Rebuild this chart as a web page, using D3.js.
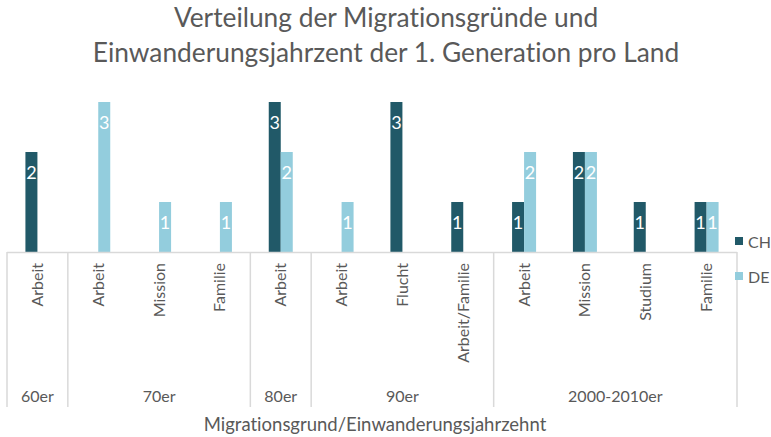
<!DOCTYPE html>
<html>
<head>
<meta charset="utf-8">
<script src="https://cdn.jsdelivr.net/npm/d3@7"></script>
<style>
  body { margin: 0; background: #fff; }
  svg { display: block; font-family: Lato, "Open Sans", sans-serif; font-variant-ligatures: none; }
</style>
</head>
<body>
<svg></svg>
<script>
var width = 771;
var height = 437;

// data
var categories = ["Arbeit", "Arbeit", "Mission", "Familie", "Arbeit", "Arbeit", "Flucht",
                  "Arbeit/Familie", "Arbeit", "Mission", "Studium", "Familie"];
var groupLabels = ["60er", "70er", "80er", "90er", "2000-2010er"];
var groupSizes = [1, 3, 1, 3, 4];
var seriesNames = ["CH", "DE"];
var chValues = [2, 0, 0, 0, 3, 0, 3, 1, 1, 2, 1, 1];
var deValues = [0, 3, 1, 1, 2, 1, 0, 0, 2, 2, 0, 1];
var titleLines = ["Verteilung der Migrationsgründe und",
                  "Einwanderungsjahrzent der 1. Generation pro Land"];
var axisTitle = "Migrationsgrund/Einwanderungsjahrzehnt";

var colors = { "CH": "#215968", "DE": "#93cddd" };
var textColor = "#595959";
var lineColor = "#d9d9d9";

var plot = { left: 7, right: 737, base: 252, top: 102, bottom: 407 };

var svg = d3.select("svg")
            .attr("width", width)
            .attr("height", height);

// title
svg.append("g")
   .selectAll("text")
   .data(titleLines)
   .enter()
   .append("text")
   .attr("x", 386)
   .attr("y", function(d, i) { return 27 + i * 35; })
   .attr("text-anchor", "middle")
   .attr("fill", textColor)
   .style("font-size", "26.3px")
   .text(function(d) { return d; });

var idx = d3.range(categories.length);

var scaleX = d3.scaleBand()
               .domain(idx)
               .range([plot.left, plot.right])
               .padding(0);

var bw = scaleX.bandwidth();

var scaleSeries = d3.scaleBand()
                    .domain(seriesNames)
                    .range([bw / 2 - 12, bw / 2 + 12])
                    .padding(0);

var scaleY = d3.scaleLinear()
               .domain([0, 3])
               .range([plot.base, plot.top]);

var rows = [];
idx.forEach(function(i) {
  rows.push({ i: i, s: "CH", v: chValues[i] });
  rows.push({ i: i, s: "DE", v: deValues[i] });
});
rows = rows.filter(function(d) { return d.v > 0; });

// bars
svg.append("g")
   .selectAll("rect")
   .data(rows)
   .enter()
   .append("rect")
   .attr("x", function(d) { return scaleX(d.i) + scaleSeries(d.s); })
   .attr("y", function(d) { return scaleY(d.v); })
   .attr("width", scaleSeries.bandwidth())
   .attr("height", function(d) { return scaleY(0) - scaleY(d.v); })
   .attr("fill", function(d) { return colors[d.s]; });

// value labels
svg.append("g")
   .selectAll("text")
   .data(rows)
   .enter()
   .append("text")
   .attr("x", function(d) { return scaleX(d.i) + scaleSeries(d.s) + scaleSeries.bandwidth() / 2; })
   .attr("y", function(d) { return scaleY(d.v) + 27; })
   .attr("text-anchor", "middle")
   .attr("fill", "#fff")
   .style("font-size", "18px")
   .text(function(d) { return d.v; });

// axis line
svg.append("line")
   .attr("x1", plot.left)
   .attr("x2", plot.right)
   .attr("y1", plot.base + 0.5)
   .attr("y2", plot.base + 0.5)
   .attr("stroke", lineColor)
   .attr("stroke-width", 1.5);

// group separators
var bounds = [0];
groupSizes.forEach(function(n, k) { bounds.push(bounds[k] + n); });

svg.append("g")
   .selectAll("line")
   .data(bounds)
   .enter()
   .append("line")
   .attr("x1", function(b) { return b < categories.length ? scaleX(b) : plot.right; })
   .attr("x2", function(b) { return b < categories.length ? scaleX(b) : plot.right; })
   .attr("y1", plot.base)
   .attr("y2", plot.bottom)
   .attr("stroke", lineColor)
   .attr("stroke-width", 1.5);

// category labels (rotated)
svg.append("g")
   .selectAll("text")
   .data(idx)
   .enter()
   .append("text")
   .attr("transform", function(i) {
     return "translate(" + (scaleX(i) + bw / 2 + 5.5) + "," + 263 + ") rotate(-90)";
   })
   .attr("text-anchor", "end")
   .attr("fill", textColor)
   .style("font-size", "16px")
   .text(function(i) { return categories[i]; });

// group labels
svg.append("g")
   .selectAll("text")
   .data(groupLabels)
   .enter()
   .append("text")
   .attr("x", function(d, k) {
     var a = scaleX(bounds[k]);
     var b = bounds[k + 1] < categories.length ? scaleX(bounds[k + 1]) : plot.right;
     return (a + b) / 2;
   })
   .attr("y", 402)
   .attr("text-anchor", "middle")
   .attr("fill", textColor)
   .style("font-size", "16px")
   .text(function(d) { return d; });

// axis title
svg.append("text")
   .attr("x", 375)
   .attr("y", 431)
   .attr("text-anchor", "middle")
   .attr("fill", textColor)
   .style("font-size", "18.5px")
   .text(axisTitle);

// legend
var legend = svg.append("g")
                .selectAll("g")
                .data(seriesNames)
                .enter()
                .append("g")
                .attr("transform", function(d, i) { return "translate(735," + (237 + i * 35) + ")"; });

legend.append("rect")
      .attr("width", 8)
      .attr("height", 8)
      .attr("fill", function(d) { return colors[d]; });

legend.append("text")
      .attr("x", 13)
      .attr("y", 11)
      .attr("fill", textColor)
      .style("font-size", "16px")
      .text(function(d) { return d; });
</script>
</body>
</html>
